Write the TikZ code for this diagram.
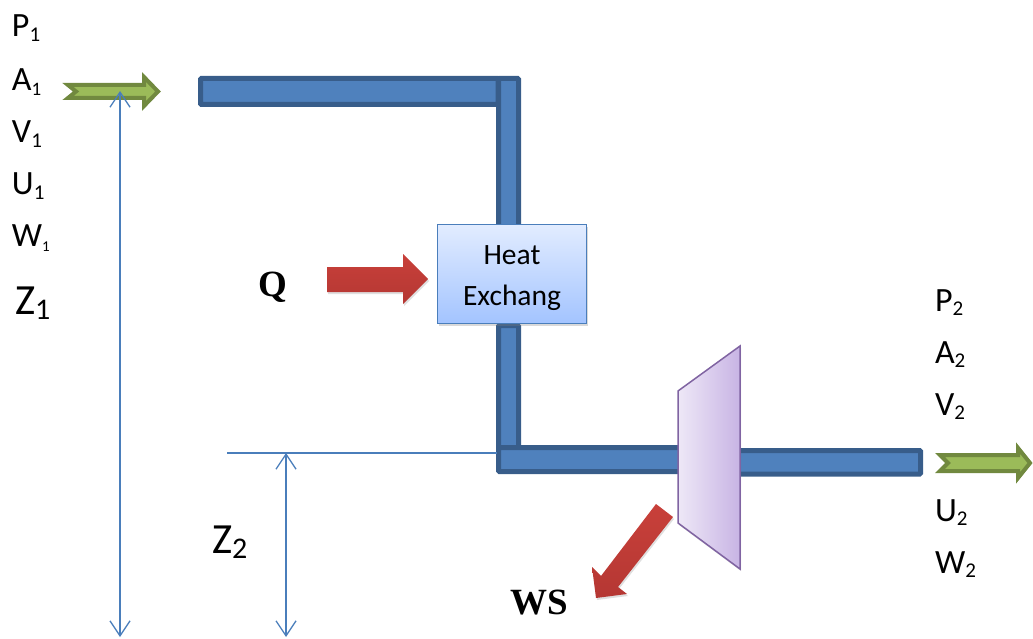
\documentclass[tikz,border=0pt]{standalone}
\usepackage{fontspec}
\setmainfont{Carlito}
\newfontfamily\serifb{Liberation Serif}
\usetikzlibrary{arrows.meta,shadows}
\newcommand{\lbl}[3]{{\fontsize{#1}{#1}\selectfont #2\raisebox{-0.12em}{\fontsize{#3}{#3}\selectfont 1}}}
\newcommand{\lbb}[3]{{\fontsize{#1}{#1}\selectfont #2\raisebox{-0.12em}{\fontsize{#3}{#3}\selectfont 2}}}
\definecolor{pipeline}{HTML}{385D8A}
\definecolor{pipefill}{HTML}{4F81BD}
\definecolor{greenline}{HTML}{71893F}
\definecolor{greenfill}{HTML}{9BBB59}
\definecolor{dimcol}{HTML}{4A7EBB}
\definecolor{hxtop}{HTML}{E2ECFF}
\definecolor{hxbot}{HTML}{A3C4FF}
\definecolor{turbline}{HTML}{8064A2}
\definecolor{turbl}{HTML}{EEE8F7}
\definecolor{turbr}{HTML}{C8B4E4}
\definecolor{reddark}{HTML}{B53733}
\definecolor{redlight}{HTML}{C8403A}
\tikzset{
  pipe/.style={draw=pipeline,fill=pipefill,line width=5pt,rounded corners=1pt},
  flowarrow/.style={draw=greenline,fill=greenfill,line width=4pt,line join=miter},
  redarrow/.style={draw=none,top color=redlight,bottom color=reddark,drop shadow={opacity=0.25,shadow xshift=1pt,shadow yshift=-2pt}},
  dimarrow/.style={draw=dimcol,line width=1.3pt,{Straight Barb[length=15pt,width=20pt,line width=1.3pt]}-{Straight Barb[length=15pt,width=20pt,line width=1.3pt]}},
  levelline/.style={draw=dimcol,line width=1.3pt},
  qty/.style={anchor=base west,inner sep=0pt,outer sep=0pt,text=black},
  bigserif/.style={anchor=base,inner sep=0pt,font=\serifb\bfseries\fontsize{37}{37}\selectfont}
}
\begin{document}
\begin{tikzpicture}[x=1pt,y=-1pt]
\useasboundingbox (0,0) rectangle (1033,639);
% pipes
\draw[pipe] (200.5,78.5) rectangle (498,104.5);
\draw[pipe] (498.5,78.5) rectangle (518.5,240);
\draw[pipe] (498.5,325.5) rectangle (518.5,450);
\draw[pipe] (498.5,447.5) rectangle (690,471.5);
\draw[pipe] (730,450.5) rectangle (920.5,474);
% dimension lines
\coordinate (topA) at (120,91);
\coordinate (botA) at (120,637);
\coordinate (topB) at (286,453);
\coordinate (botB) at (286,637);
\coordinate (levL) at (227,453);
\coordinate (levR) at (497,453);
\draw[levelline] (levL) -- (levR);
% green flow arrows
\draw[flowarrow] (68,85) -- (144,85) -- (144,77) -- (158,91.5) -- (144,106) -- (144,98) -- (68,98) -- (76,91.5) -- cycle;
\draw[flowarrow] (940,455) -- (1018,455) -- (1018,448) -- (1030,463) -- (1018,478) -- (1018,471) -- (940,471) -- (948,463) -- cycle;
\draw[dimarrow] (botA) -- (topA);
\draw[dimarrow] (botB) -- (topB);
% heat exchanger
\node (hx) [draw=dimcol,line width=1.5pt,top color=hxtop,bottom color=hxbot,
  minimum width=149pt,minimum height=99pt,inner sep=0pt,align=center,
  font=\fontsize{29.5}{41}\selectfont,
  drop shadow={opacity=0.3,shadow xshift=1pt,shadow yshift=-2pt}] at (512,274) {\rule{0pt}{27pt}Heat\\Exchang};
% turbine
\draw[draw=turbline,line width=1.5pt,left color=turbl,right color=turbr,
  drop shadow={opacity=0.25,shadow xshift=1pt,shadow yshift=-2pt}]
  (678,391) -- (740,346) -- (740,569) -- (678,523) -- cycle;
% red arrows
\path[redarrow] (327,267) -- (403,267) -- (403,254) -- (428,279) -- (403,304) -- (403,292) -- (327,292) -- cycle;
\path[redarrow] (656,504) -- (673,517) -- (618,587) -- (627,594) -- (596,598) -- (592,567) -- (601,576) -- cycle;
% labels
\node (p1) [qty] at (12,37) {\lbl{34}{P}{21}};
\node (a1) [qty] at (12,91) {\lbl{34}{A}{19}};
\node (v1) [qty] at (12,143) {\lbl{34}{V}{21}};
\node (u1) [qty] at (12,195) {\lbl{34}{U}{21}};
\node (w1) [qty] at (12,247) {\lbl{34}{W}{15}};
\node (z1) [qty] at (15,314) {\lbl{43}{Z}{30}};
\node (p2) [qty] at (935,311) {\lbb{34}{P}{21}};
\node (a2) [qty] at (935,363) {\lbb{34}{A}{21}};
\node (v2) [qty] at (935,415) {\lbb{34}{V}{21}};
\node (u2) [qty] at (935,521) {\lbb{34}{U}{21}};
\node (w2) [qty] at (935,573) {\lbb{34}{W}{21}};
\node (z2) [qty] at (212,553) {\lbb{43}{Z}{30}};
\node (q) [bigserif] at (273,296) {Q};
\node (ws) [bigserif] at (539,614) {WS};
\end{tikzpicture}
\end{document}
